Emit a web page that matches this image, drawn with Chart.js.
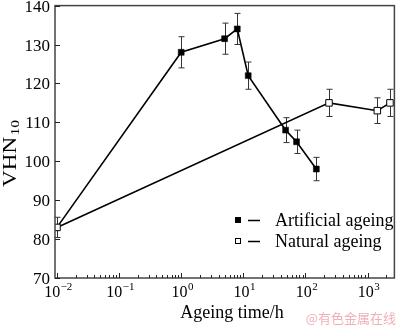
<!DOCTYPE html>
<html><head><meta charset="utf-8">
<script src="https://cdn.jsdelivr.net/npm/chart.js@4"></script>
<style>html,body{margin:0;padding:0;background:#fff}#wrap{width:400px;height:326px;position:relative}</style>
</head><body><div id="wrap"><canvas id="c" width="400" height="326"></canvas></div>
<script>
// ---- data ----
const artificialTime = [0.01, 1, 5, 8, 12, 48, 72, 150];
const artificialVHN  = [83, 128, 131.5, 134, 122, 108, 105, 98];
const artificialErr  = [0, 4, 4, 4, 3.5, 3.2, 3, 3];
const naturalTime = [0.01, 240, 1440, 2300];
const naturalVHN  = [83, 115, 113, 115];
const naturalErr  = [2.6, 3.5, 3.3, 3.5];
const yTickValues = [70, 80, 90, 100, 110, 120, 130, 140];
const xDecadeExponents = [-2, -1, 0, 1, 2, 3];
const seriesNames = ['Artificial ageing', 'Natural ageing'];
const xTitle = 'Ageing time/h';
const yTitleMain = 'VHN';
const yTitleSub = '10';
const watermark = '@有色金属在线';

const SERIF = '"Liberation Serif", "Times New Roman", serif';

function pts(xs, ys) { return xs.map((x, i) => ({x: x, y: ys[i]})); }

const decor = {
  id: 'decor',
  beforeDatasetsDraw(chart) {
    const ctx = chart.ctx, xs = chart.scales.x, ys = chart.scales.y;
    ctx.save();
    ctx.strokeStyle = '#333';
    ctx.lineWidth = 1;
    const sets = [[naturalTime, naturalVHN, naturalErr], [artificialTime, artificialVHN, artificialErr]];
    sets.forEach(([t, v, e]) => {
      t.forEach((tt, i) => {
        if (!e[i]) return;
        const px = Math.round(xs.getPixelForValue(tt)) + 0.5;
        const top = ys.getPixelForValue(v[i] + e[i]);
        const bot = ys.getPixelForValue(v[i] - e[i]);
        ctx.beginPath();
        ctx.moveTo(px, top); ctx.lineTo(px, bot);
        ctx.moveTo(px - 3, top); ctx.lineTo(px + 3, top);
        ctx.moveTo(px - 3, bot); ctx.lineTo(px + 3, bot);
        ctx.stroke();
      });
    });
    ctx.restore();
  },
  afterDraw(chart) {
    const ctx = chart.ctx, xs = chart.scales.x, ys = chart.scales.y, a = chart.chartArea;
    ctx.save();
    // frame
    ctx.strokeStyle = '#444';
    ctx.lineWidth = 1.5;
    ctx.strokeRect(a.left, a.top, a.right - a.left, a.bottom - a.top);
    // y ticks + labels
    ctx.lineWidth = 1;
    ctx.strokeStyle = '#222';
    ctx.fillStyle = '#000';
    ctx.font = '17px ' + SERIF;
    ctx.textAlign = 'right';
    ctx.textBaseline = 'middle';
    yTickValues.forEach(v => {
      const py = Math.round(ys.getPixelForValue(v)) + 0.5;
      ctx.beginPath(); ctx.moveTo(a.left, py); ctx.lineTo(a.left + 5, py); ctx.stroke();
      ctx.fillText(String(v), a.left - 5, py + 1);
    });
    // x ticks (major + minor)
    xDecadeExponents.forEach(d => {
      const base = Math.pow(10, d);
      const px = Math.round(xs.getPixelForValue(base)) + 0.5;
      ctx.beginPath(); ctx.moveTo(px, a.bottom); ctx.lineTo(px, a.bottom - 5); ctx.stroke();
      for (let m = 2; m <= 9; m++) {
        const val = m * base;
        if (val > xs.max) break;
        const mx = Math.round(xs.getPixelForValue(val)) + 0.5;
        ctx.beginPath(); ctx.moveTo(mx, a.bottom); ctx.lineTo(mx, a.bottom - 3); ctx.stroke();
      }
      // label 10^d
      const mainTxt = '10', expTxt = (d < 0 ? '\u2212' : '') + Math.abs(d);
      ctx.font = '16px ' + SERIF;
      const w1 = ctx.measureText(mainTxt).width;
      ctx.font = '11px ' + SERIF;
      const w2 = ctx.measureText(expTxt).width;
      const x0 = xs.getPixelForValue(base) - (w1 + w2) / 2 + 1;
      ctx.textAlign = 'left';
      ctx.textBaseline = 'alphabetic';
      ctx.font = '16px ' + SERIF;
      ctx.fillText(mainTxt, x0, 297);
      ctx.font = '11px ' + SERIF;
      ctx.fillText(expTxt, x0 + w1 + 0.5, 290);
    });
    // x title
    ctx.font = '18px ' + SERIF;
    ctx.textAlign = 'center';
    ctx.textBaseline = 'alphabetic';
    ctx.fillText(xTitle, 232, 318);
    // y title (rotated)
    ctx.save();
    ctx.translate(16, 187);
    ctx.rotate(-Math.PI / 2);
    ctx.font = '18px ' + SERIF;
    const wm = ctx.measureText(yTitleMain).width;
    ctx.font = '12px ' + SERIF;
    const ws = ctx.measureText(yTitleSub).width;
    const sc = 67 / (wm + ws + 1);
    ctx.scale(sc, 1);
    ctx.textAlign = 'left';
    ctx.font = '18px ' + SERIF;
    ctx.fillText(yTitleMain, 0, 0);
    ctx.font = '12px ' + SERIF;
    ctx.fillText(yTitleSub, wm + 1, 3);
    ctx.restore();
    // legend
    const rows = [[220, true], [241, false]];
    rows.forEach(([ly, filled], i) => {
      ctx.lineWidth = 1;
      ctx.strokeStyle = '#000';
      if (filled) { ctx.fillStyle = '#000'; ctx.fillRect(235, ly - 3, 6, 6); }
      else { ctx.fillStyle = '#fff'; ctx.fillRect(235, ly - 3, 6, 6); ctx.strokeRect(235.5, ly - 2.5, 5, 5); }
      ctx.lineWidth = 1.5;
      ctx.beginPath(); ctx.moveTo(248, ly + 0.5); ctx.lineTo(260, ly + 0.5); ctx.stroke();
      ctx.fillStyle = '#000';
      ctx.font = '18px ' + SERIF;
      ctx.textAlign = 'left';
      ctx.textBaseline = 'middle';
      ctx.fillText(seriesNames[i], 275, ly + 1);
    });
    // watermark
    ctx.font = '13px "Noto Sans CJK SC", sans-serif';
    ctx.fillStyle = '#efb0b8';
    ctx.textAlign = 'right';
    ctx.textBaseline = 'middle';
    ctx.fillText(watermark, 396, 318);
    ctx.restore();
  }
};

new Chart(document.getElementById('c'), {
  type: 'scatter',
  data: {
    datasets: [
      {
        label: seriesNames[1],
        data: pts(naturalTime, naturalVHN),
        showLine: true,
        borderColor: '#000',
        borderWidth: 1.6,
        pointStyle: 'rect',
        pointRadius: 4.6,
        pointBackgroundColor: '#fff',
        pointBorderColor: '#000',
        pointBorderWidth: 1,
        order: 1
      },
      {
        label: seriesNames[0],
        data: pts(artificialTime, artificialVHN),
        showLine: true,
        borderColor: '#000',
        borderWidth: 1.6,
        pointStyle: 'rect',
        pointRadius: artificialTime.map((t, i) => i === 0 ? 0 : 4.2),
        pointBackgroundColor: '#000',
        pointBorderColor: '#000',
        pointBorderWidth: 0.5,
        order: 2
      }
    ]
  },
  options: {
    responsive: false,
    animation: false,
    devicePixelRatio: 1,
    layout: { padding: { left: 55, right: 4, top: 3, bottom: 48 } },
    plugins: { legend: { display: false }, tooltip: { enabled: false } },
    scales: {
      x: { type: 'logarithmic', min: 0.00929, max: 2711, display: false },
      y: { type: 'linear', min: 70, max: 140, display: false }
    }
  },
  plugins: [decor]
});
</script></body></html>
